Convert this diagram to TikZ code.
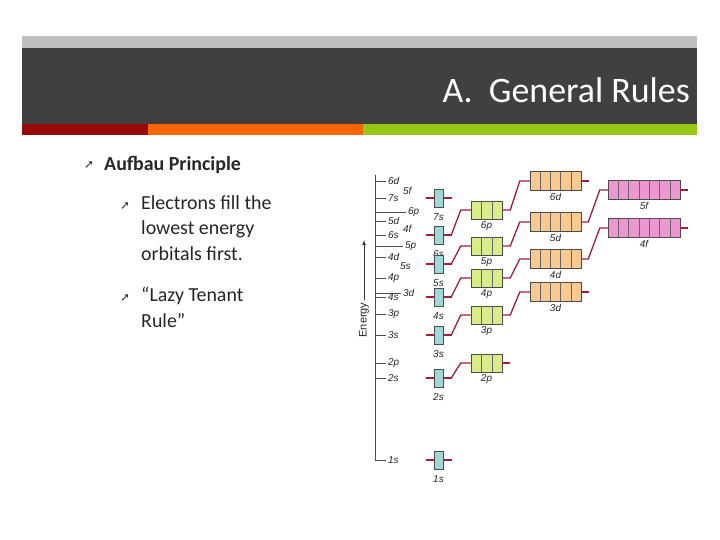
\documentclass[tikz,border=0pt]{standalone}
\usepackage{fontspec}
\usetikzlibrary{calc}
\setmainfont{Carlito}
\newfontfamily\lab{Liberation Sans}
\newfontfamily\sym{DejaVu Sans}
\definecolor{cnc}{RGB}{160,30,60}
\definecolor{sc}{RGB}{160,216,216}
\definecolor{pc}{RGB}{216,236,138}
\definecolor{dc}{RGB}{250,200,145}
\definecolor{fc}{RGB}{236,150,210}
\definecolor{rA}{RGB}{150,10,10}
\definecolor{rB}{RGB}{255,102,0}
\definecolor{rC}{RGB}{150,200,20}
\begin{document}
\begin{tikzpicture}[x=1bp,y=-1bp,
  lv/.style={draw=black!70,line width=0.6bp},
  cn/.style={draw=cnc,line width=1.3bp},
  sb/.style={draw=black!70,fill=sc,line width=0.5bp},
  pb/.style={draw=black!70,fill=pc,line width=0.5bp},
  db/.style={draw=black!70,fill=dc,line width=0.5bp},
  fb/.style={draw=black!70,fill=fc,line width=0.5bp},
  tl/.style={font=\lab\itshape\fontsize{10}{10}\selectfont,inner sep=0pt,text=black!85},
  bt/.style={anchor=west,font=\fontsize{20}{26}\selectfont,align=left,inner sep=0pt,text=black!85}]
\useasboundingbox (0,0) rectangle (720,540);
\fill[white] (0,0) rectangle (720,540);
% header
\fill[black!25] (22,36) rectangle (697,48);
\fill[black!75] (22,48) rectangle (697,124);
\fill[rA] (22,124) rectangle (148,135);
\fill[rB] (148,124) rectangle (363,135);
\fill[rC] (363,124) rectangle (697,135);
\node[anchor=east,text=white,font=\fontsize{36}{36}\selectfont,inner sep=0pt] (title) at (690,90) {A.\ \ General Rules};
% bullets
\node[anchor=west,font=\sym\fontsize{12}{12}\selectfont,text=black!80,inner sep=0pt] (b1) at (84,165) {➚};
\node[bt,font=\bfseries\fontsize{20}{26}\selectfont] (t1) at (104,165) {Aufbau Principle};
\node[anchor=west,font=\sym\fontsize{12}{12}\selectfont,text=black!80,inner sep=0pt] (b2) at (120,206) {➚};
\node[bt,anchor=north west] (t2) at (141,195) {Electrons fill the\\lowest energy\\orbitals first.};
\node[anchor=west,font=\sym\fontsize{12}{12}\selectfont,text=black!80,inner sep=0pt] (b3) at (120,298) {➚};
\node[bt,anchor=north west] (t3) at (141,287) {“Lazy Tenant\\Rule”};
% axis
\draw[lv] (375,175) -- (375,460);
\draw[-latex,black!80,line width=0.7bp] (364,300) -- (364,240);
\node[rotate=90,font=\lab\fontsize{11}{11}\selectfont,text=black!85] (en) at (364,320) {Energy};
\foreach \y/\l/\x in {181/6d/388,198/7s/388,212/6p/408,221/5d/388,235/6s/388,246/5p/405,257/4d/388,278/4p/388,293/3d/403,297/4s/388,314/3p/388,335/3s/388,363/2p/388,378/2s/388,460/1s/388}{
  \draw[lv] (375,\y) -- (\x-2,\y);
  \node[tl,anchor=west] at (\x,\y) {\l};}
\node[tl,anchor=west] at (403,191) {5f};
\node[tl,anchor=west] at (403,229) {4f};
\node[tl,anchor=west] at (400,266) {5s};
% s boxes
\foreach \n/\y in {7/198,6/235,5/264,4/297,3/335,2/378,1/460}{
  \draw[cn] (426,\y) -- (452,\y);
  \node[sb,minimum width=9bp,minimum height=18bp,inner sep=0pt] (s\n) at (438.5,\y) {};
  \node[tl] at (438.5,\y+19) {\n s};}
% p boxes
\foreach \n/\y in {6/210,5/246,4/278,3/315,2/363}{
  \node[pb,minimum width=31bp,minimum height=18bp,inner sep=0pt] (p\n) at (486.5,\y) {};
  \draw[black!60] ($(p\n.north)+(-5.2,0)$) -- ++(0,18) ($(p\n.north)+(5.2,0)$) -- ++(0,18);
  \node[tl] at (486.5,\y+16) {\n p};
  \draw[cn] (s\n.east) -- ++(8,0) -- ($(p\n.west)+(-10,0)$) -- (p\n.west);}
\draw[cn] (p2.east) -- ++(8,0);
% d boxes
\foreach \n/\y in {6/181,5/222,4/259,3/292}{
  \node[db,minimum width=51bp,minimum height=19bp,inner sep=0pt] (d\n) at (555.5,\y) {};
  \foreach \k in {-15.3,-5.1,5.1,15.3}{\draw[black!60] ($(d\n.north)+(\k,0)$) -- ++(0,19);}
  \node[tl] at (555.5,\y+16) {\n d};
  \draw[cn] (p\n.east) -- ++(8,0) -- ($(d\n.west)+(-10,0)$) -- (d\n.west);}
\draw[cn] (d6.east) -- ++(8,0);
\draw[cn] (d3.east) -- ++(8,0);
% f boxes
\foreach \n/\m/\y in {5/5/190,4/4/228}{
  \node[fb,minimum width=72bp,minimum height=19bp,inner sep=0pt] (f\n) at (644,\y) {};
  \foreach \k in {-25.7,-15.4,-5.1,5.1,15.4,25.7}{\draw[black!60] ($(f\n.north)+(\k,0)$) -- ++(0,19);}
  \node[tl] at (644,\y+16) {\n f};
  \draw[cn] (d\m.east) -- ++(7,0) -- ($(f\n.west)+(-8,0)$) -- (f\n.west);
  \draw[cn] (f\n.east) -- ++(8,0);}
\end{tikzpicture}
\end{document}
